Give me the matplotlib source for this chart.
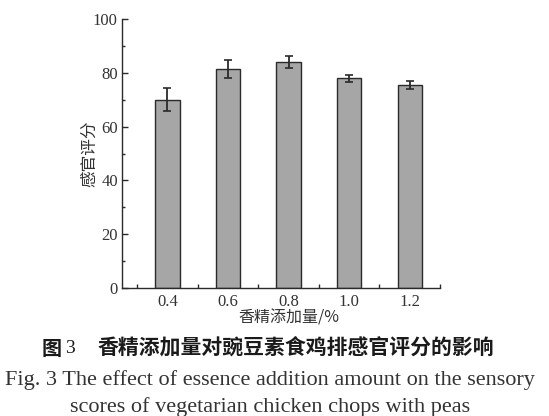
import numpy as np
import matplotlib
matplotlib.use("Agg")
import matplotlib.pyplot as plt
from matplotlib.ticker import MultipleLocator

# datos
niveles = [0.4, 0.6, 0.8, 1.0, 1.2]
etiquetas = ["0.4", "0.6", "0.8", "1.0", "1.2"]
puntaje = [70.0, 81.4, 84.1, 77.9, 75.5]
error = [4.3, 3.3, 2.2, 1.3, 1.5]

serif = "Liberation Serif"
cjk = "Noto Sans CJK SC"

fig = plt.figure(figsize=(5.49, 4.16), dpi=100)
ax = fig.add_axes([0.2222, 0.3077, 0.5793, 0.6466])

ax.bar(niveles, puntaje, width=0.08, color="#a6a6a6", edgecolor="#2a2a2a",
       linewidth=1.0, zorder=2)
ax.errorbar(niveles, puntaje, yerr=error, fmt="none", ecolor="#2a2a2a",
            elinewidth=1.3, capsize=3, capthick=1.2, zorder=3)

ax.set_xlim(0.25, 1.3)
ax.set_ylim(0, 100)
ax.set_xticks(niveles)
ax.set_xticklabels(etiquetas, fontfamily=serif, fontsize=12, color="#333333")
ax.set_xticks(np.arange(0.3, 1.31, 0.2), minor=True)
ax.yaxis.set_major_locator(MultipleLocator(20))
ax.yaxis.set_minor_locator(MultipleLocator(10))
for lab in ax.get_yticklabels():
    lab.set_fontfamily(serif)
    lab.set_fontsize(12)
    lab.set_color("#333333")

ax.spines["top"].set_visible(False)
ax.spines["right"].set_visible(False)
for s in ["left", "bottom"]:
    ax.spines[s].set_linewidth(1.0)
    ax.spines[s].set_color("#2a2a2a")
# ticks hacia adentro
ax.tick_params(axis="y", which="major", direction="in", length=4, width=1.0, color="#2a2a2a", pad=3)
ax.tick_params(axis="y", which="minor", direction="in", length=2.5, width=1.0, color="#2a2a2a")
ax.tick_params(axis="x", which="major", direction="in", length=3, width=1.0, color="#2a2a2a", pad=4)
ax.tick_params(axis="x", which="minor", direction="in", length=3, width=1.0, color="#2a2a2a")

ax.set_ylabel("感官评分", fontfamily=cjk, fontsize=12, color="#333333")
ax.yaxis.label.set_verticalalignment("center")
ax.yaxis.set_label_coords(-0.102, 0.5)
ax.set_xlabel("香精添加量/%", fontfamily=[cjk, serif], fontsize=11.5, color="#333333")
ax.xaxis.set_label_coords(0.525, -0.08)

# pie de figura
fig.text(0.076, 0.163, "图", fontfamily=cjk, fontweight="bold", fontsize=14.5, color="#1a1a1a", va="center")
fig.text(0.118, 0.163, "3", fontfamily=serif, fontsize=14, color="#1a1a1a", va="center")
fig.text(0.178, 0.163, "香精添加量对豌豆素食鸡排感官评分的影响", fontfamily=cjk,
         fontweight="bold", fontsize=15, color="#1a1a1a", va="center")
fig.text(0.492, 0.0745, "Fig. 3 The effect of essence addition amount on the sensory",
         fontfamily=serif, fontsize=16, color="#333333", ha="center", va="baseline")
fig.text(0.492, 0.0096, "scores of vegetarian chicken chops with peas",
         fontfamily=serif, fontsize=16, color="#333333", ha="center", va="baseline")

fig.savefig("out.png", dpi=100)
